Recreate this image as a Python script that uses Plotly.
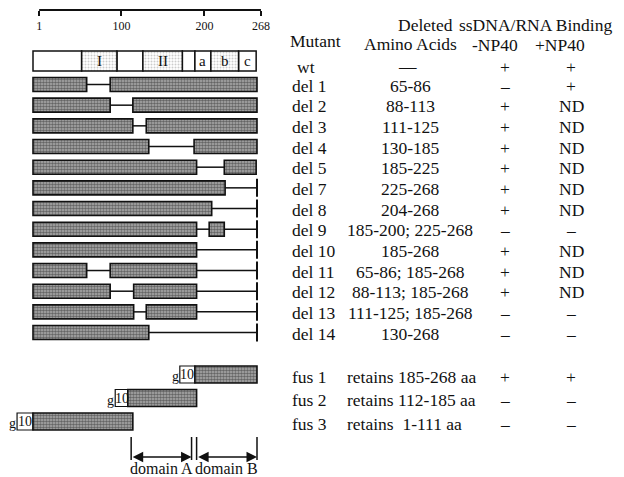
import plotly.graph_objects as go

# ---------------- data ----------------
protein_len = 268
ruler_ticks = [1, 100, 200, 268]

wt_bounds = [1, 59, 101, 132, 179, 194, 213, 246, 267]
wt_labels = ["", "I", "", "II", "", "a", "b", "c"]
wt_stippled = [False, True, False, True, False, False, True, False]

mutants = ["del 1", "del 2", "del 3", "del 4", "del 5", "del 7", "del 8",
           "del 9", "del 10", "del 11", "del 12", "del 13", "del 14"]
deleted = ["65-86", "88-113", "111-125", "130-185", "185-225", "225-268",
           "204-268", "185-200; 225-268", "185-268", "65-86; 185-268",
           "88-113; 185-268", "111-125; 185-268", "130-268"]
minus_np40 = ["–", "+", "+", "+", "+", "+", "+", "–", "+", "+", "+", "–", "–"]
plus_np40 = ["+", "ND", "ND", "ND", "ND", "ND", "ND", "–", "ND", "ND", "ND", "–", "–"]
# retained segments as drawn (amino-acid units)
retained = [
    [(1, 65), (93, 268)],
    [(1, 93), (120, 268)],
    [(1, 120), (136, 268)],
    [(1, 139), (193, 268)],
    [(1, 196), (229, 267)],
    [(1, 230)],
    [(1, 214)],
    [(1, 196), (211, 229)],
    [(1, 196)],
    [(1, 65), (93, 196)],
    [(1, 93), (121, 196)],
    [(1, 121), (136, 196)],
    [(1, 139)],
]

wt_row = ["wt", "—", "+", "+"]

fusions = ["fus 1", "fus 2", "fus 3"]
fus_desc = ["retains 185-268 aa", "retains 112-185 aa", "retains  1-111 aa"]
fus_minus = ["+", "–", "–"]
fus_plus = ["+", "–", "–"]
fus_tag = [(176, 194), (99, 114), (-18, 1)]
fus_protein = [(194, 268), (114, 196), (1, 120)]

domains = ["domain A", "domain B"]
domain_start = [118, 196]
domain_end = [190, 268]

headers = ["Mutant", "Deleted", "Amino Acids", "ssDNA/RNA Binding", "-NP40", "+NP40"]

# ---------------- layout constants ----------------
W, H = 624, 477
PX_PER_AA = 224 / 267
X0_PX = 33
x_range = [1 - X0_PX / PX_PER_AA, 1 + (W - X0_PX) / PX_PER_AA]
R_SLOPE, R_ICPT = 0.8307, 38.33
x2_range = [-R_ICPT / R_SLOPE, (W - R_ICPT) / R_SLOPE]

WT_Y = 61
DEL_Y0, DEL_DY = 84.5, 20.67
FUS_Y0, FUS_DY = 374.5, 23.5
DEL_H, WT_H, FUS_H = 14, 20, 17
SERIF = "Liberation Serif"
INK = "#111111"

hatch = dict(color="#a8a8a8", line=dict(color=INK, width=1.6),
             pattern=dict(shape=".", fgcolor="#1a1a1a", bgcolor="#b0b0b0",
                          size=3, solidity=0.6, fillmode="overlay"))

fig = go.Figure()

# wt bar
wt_base = wt_bounds[:-1]
wt_len = [b - a for a, b in zip(wt_bounds[:-1], wt_bounds[1:])]
for stip in (False, True):
    idx = [i for i, s in enumerate(wt_stippled) if s == stip]
    marker = dict(color="white", line=dict(color=INK, width=1.5))
    if stip:
        marker["pattern"] = dict(shape=".", fgcolor="#9a9a9a", bgcolor="white",
                                 size=3, solidity=0.35, fillmode="overlay")
    fig.add_trace(go.Bar(orientation="h", base=[wt_base[i] for i in idx],
                         x=[wt_len[i] for i in idx], y=[WT_Y] * len(idx),
                         width=WT_H, marker=marker, hoverinfo="skip"))

annotations = []
for i, lab in enumerate(wt_labels):
    if lab:
        annotations.append(dict(x=(wt_bounds[i] + wt_bounds[i + 1]) / 2, y=WT_Y,
                                xref="x", yref="y", text=lab, showarrow=False,
                                font=dict(family=SERIF, size=15, color=INK)))

# deletion rows
bx, bl, by = [], [], []
lx, ly = [], []
ex, ey = [], []
for k, segs in enumerate(retained):
    yc = DEL_Y0 + k * DEL_DY
    for a, b in segs:
        bx.append(a); bl.append(b - a); by.append(yc)
    for (a1, b1), (a2, b2) in zip(segs[:-1], segs[1:]):
        lx += [b1, a2, None]; ly += [yc, yc, None]
    if segs[-1][1] < protein_len - 2:
        lx += [segs[-1][1], protein_len, None]; ly += [yc, yc, None]
        ex += [protein_len, protein_len, None]; ey += [yc - 9, yc + 9, None]

fig.add_trace(go.Scatter(x=lx, y=ly, mode="lines", line=dict(color=INK, width=1.5),
                         hoverinfo="skip"))
fig.add_trace(go.Scatter(x=ex, y=ey, mode="lines", line=dict(color=INK, width=2),
                         hoverinfo="skip"))
fig.add_trace(go.Bar(orientation="h", base=bx, x=bl, y=by, width=DEL_H,
                     marker=hatch, hoverinfo="skip"))

# fusion rows
fy = [FUS_Y0 + k * FUS_DY for k in range(len(fusions))]
fig.add_trace(go.Bar(orientation="h", base=[a for a, b in fus_tag],
                     x=[b - a for a, b in fus_tag], y=fy, width=FUS_H,
                     marker=dict(color="white", line=dict(color=INK, width=1.2)),
                     hoverinfo="skip"))
fig.add_trace(go.Bar(orientation="h", base=[a for a, b in fus_protein],
                     x=[b - a for a, b in fus_protein], y=fy, width=FUS_H,
                     marker=hatch, hoverinfo="skip"))
for (a, b), yc in zip(fus_tag, fy):
    annotations.append(dict(x=(a + b) / 2, y=yc, xref="x", yref="y", text="10",
                            showarrow=False, font=dict(family=SERIF, size=14, color=INK)))
    annotations.append(dict(x=a + 1, y=yc + 2, xref="x", yref="y", text="g", xanchor="right",
                            showarrow=False, font=dict(family=SERIF, size=14, color=INK)))

# domain markers
vx, vy = [], []
for a, b in zip(domain_start, domain_end):
    for v in (a, b):
        vx += [v, v, None]; vy += [437, 460, None]
fig.add_trace(go.Scatter(x=vx, y=vy, mode="lines", line=dict(color=INK, width=1.5),
                         hoverinfo="skip"))
for name, a, b in zip(domains, domain_start, domain_end):
    annotations.append(dict(x=b, y=457, ax=a, ay=457, xref="x", yref="y",
                            axref="x", ayref="y", text="", showarrow=True,
                            arrowside="end+start", arrowhead=2, arrowsize=1.4,
                            arrowwidth=1.5, arrowcolor=INK))
    annotations.append(dict(x=(a + b) / 2, y=468, xref="x", yref="y", text=name,
                            showarrow=False, font=dict(family=SERIF, size=16, color=INK)))

# ruler
fig.add_trace(go.Scatter(x=[ruler_ticks[0], ruler_ticks[-1]], y=[10, 10], xaxis="x2",
                         mode="lines", line=dict(color=INK, width=2), hoverinfo="skip"))

# table text
def txt(px, y, s, anchor="center", size=17.5):
    annotations.append(dict(x=px / W, y=y, xref="paper", yref="y", text=s,
                            xanchor=anchor, showarrow=False,
                            font=dict(family=SERIF, size=size, color=INK)))

txt(315, 41, headers[0])
txt(425, 24.5, headers[1])
txt(410, 44, headers[2])
txt(535, 25, headers[3])
txt(495, 45, headers[4])
txt(560, 45, headers[5])

txt(306, 67, wt_row[0])
txt(407, 66, wt_row[1])
txt(505, 67, wt_row[2])
txt(571, 67, wt_row[3])
for k in range(len(mutants)):
    yc = DEL_Y0 + k * DEL_DY + 1
    txt(290, yc, mutants[k], anchor="left")
    txt(410, yc, deleted[k])
    txt(505, yc, minus_np40[k])
    txt(571, yc, plus_np40[k])
for k in range(len(fusions)):
    yc = fy[k] + 2
    txt(290, yc, fusions[k], anchor="left")
    txt(345, yc, fus_desc[k], anchor="left")
    txt(505, yc, fus_minus[k])
    txt(571, yc, fus_plus[k])

fig.update_layout(
    width=W, height=H, margin=dict(l=0, r=0, t=0, b=0),
    paper_bgcolor="white", plot_bgcolor="white", showlegend=False,
    barmode="overlay", annotations=annotations,
    xaxis=dict(range=x_range, visible=False, fixedrange=True),
    xaxis2=dict(range=x2_range, overlaying="x", anchor="free", position=1 - 10 / H,
                side="bottom", showline=False, showgrid=False, zeroline=False,
                ticks="outside", ticklen=5, tickwidth=1.5, tickcolor=INK,
                tickvals=ruler_ticks, tickfont=dict(family=SERIF, size=12, color=INK)),
    yaxis=dict(range=[H, 0], visible=False, fixedrange=True),
)

fig.write_html("out.html", config={"displayModeBar": False},
               post_script="document.body.style.margin='0px';document.body.style.overflow='hidden';")
